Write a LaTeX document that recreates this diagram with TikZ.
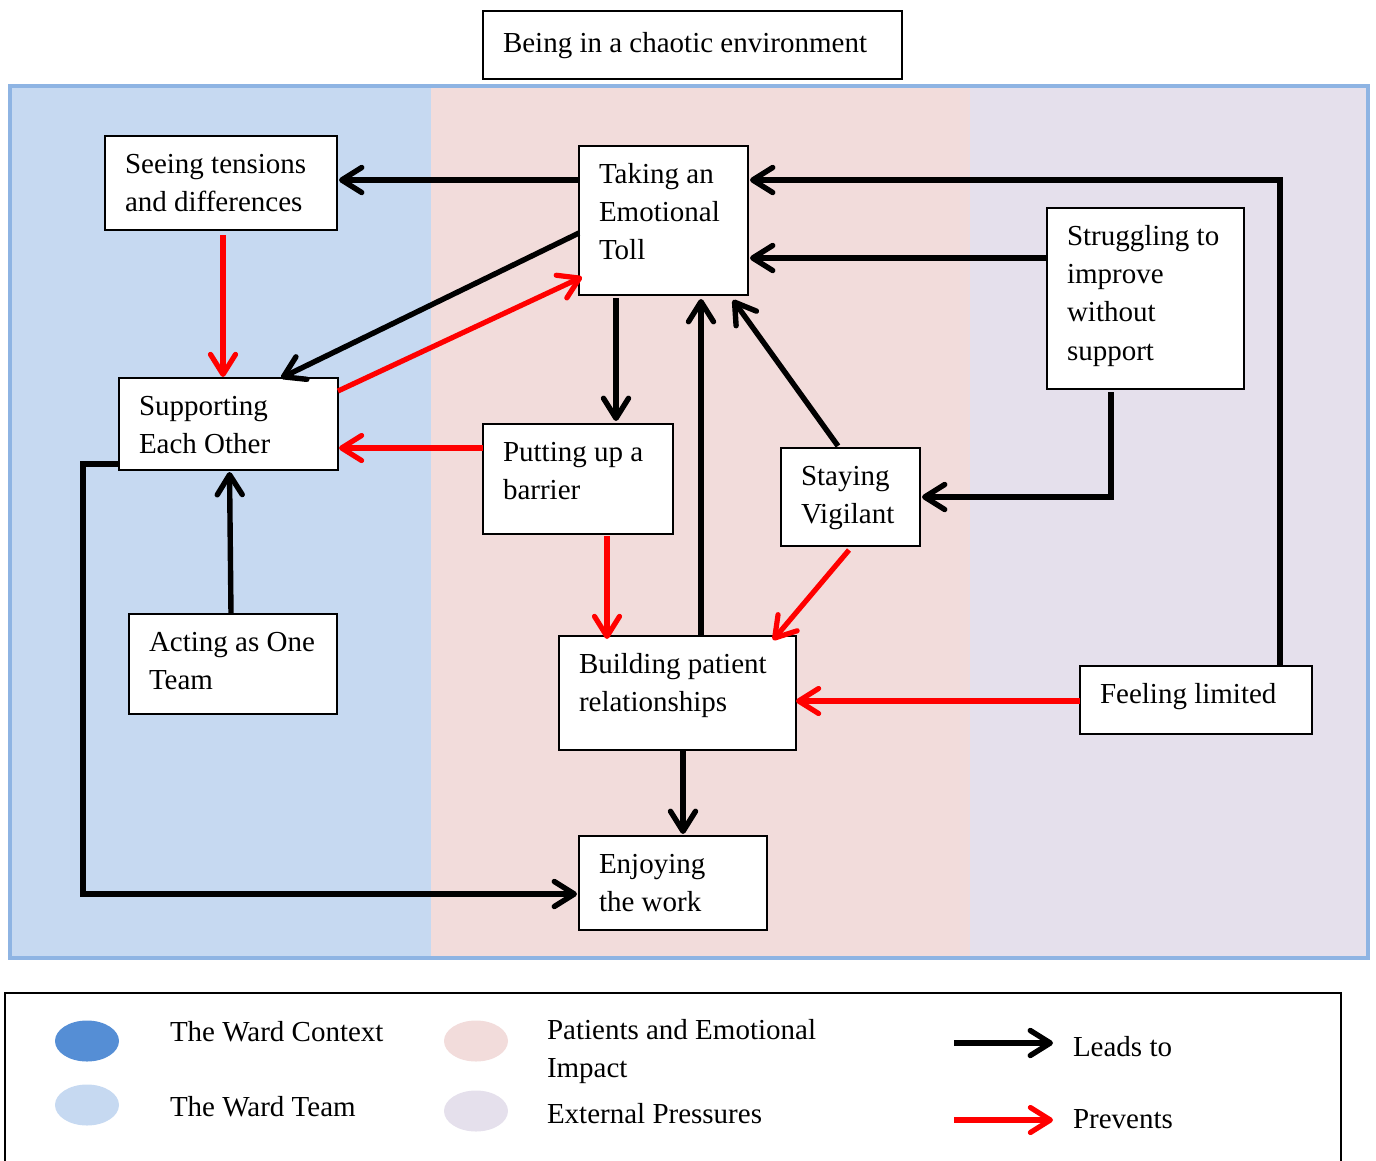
\documentclass[tikz,border=0pt]{standalone}
\usepackage{fontspec}
\setmainfont{Liberation Serif}
\usetikzlibrary{arrows.meta,shapes.geometric}
\definecolor{teamblue}{HTML}{C6D9F1}
\definecolor{pinkbg}{HTML}{F2DCDB}
\definecolor{lavbg}{HTML}{E5E0EC}
\definecolor{ctxblue}{HTML}{558ED5}
\definecolor{frameblue}{HTML}{8EB4E3}
\newcommand\diafont{\fontsize{29}{38.4}\selectfont}
\newcommand\mystrut{\rule{0pt}{25.5pt}}
\tikzset{
  box/.style={draw=black, line width=1.3pt, fill=white, anchor=north west, inner sep=0pt, outer sep=0pt},
  txt/.style={anchor=north west, inner sep=0pt, outer sep=0pt, align=left, font=\diafont},
  ltxt/.style={anchor=base west, inner sep=0pt, outer sep=0pt, font=\diafont},
  barb/.tip={Straight Barb[length=20pt,width=25pt,round]},
  lead/.style={line width=5.4pt, draw=black, -barb},
  prev/.style={line width=5.2pt, draw=red, -barb},
  keyell/.style={ellipse, draw=none, minimum width=64pt, minimum height=41pt, inner sep=0pt}
}
\begin{document}
\begin{tikzpicture}[x=1pt,y=-1pt]
\clip (0,0) rectangle (1376,1160);
% regions
\fill[teamblue] (12,88) rectangle (431,956);
\fill[pinkbg] (431,88) rectangle (970,956);
\fill[lavbg] (970,88) rectangle (1366,956);
\draw[frameblue, line width=4pt] (10,86) rectangle (1368,958);

% top box
\node[box, minimum width=419pt, minimum height=68pt] (C) at (483,11) {};
\node[txt] (Ct) at (503,26.7) {\mystrut Being in a chaotic environment};

% boxes
\node[box, minimum width=232pt, minimum height=94pt] (S) at (105,136) {};
\node[txt] (St) at (125,147.5) {\mystrut Seeing tensions\\and differences};
\node[box, minimum width=169pt, minimum height=149pt] (T) at (579,146) {};
\node[txt] (Tt) at (599,157.5) {\mystrut Taking an\\Emotional\\Toll};
\node[box, minimum width=197pt, minimum height=181pt] (R) at (1047,208) {};
\node[txt] (Rt) at (1067,219.5) {\mystrut Struggling to\\improve\\without\\support};
\node[box, minimum width=219pt, minimum height=92pt] (SU) at (119,378) {};
\node[txt] (SUt) at (139,389.5) {\mystrut Supporting\\Each Other};
\node[box, minimum width=190pt, minimum height=110pt] (P) at (483,424) {};
\node[txt] (Pt) at (503,435.5) {\mystrut Putting up a\\barrier};
\node[box, minimum width=139pt, minimum height=98pt] (V) at (781,448) {};
\node[txt] (Vt) at (801,459.5) {\mystrut Staying\\Vigilant};
\node[box, minimum width=208pt, minimum height=100pt] (A) at (129,614) {};
\node[txt] (At) at (149,625.5) {\mystrut Acting as One\\Team};
\node[box, minimum width=237pt, minimum height=114pt] (B) at (559,636) {};
\node[txt] (Bt) at (579,647.5) {\mystrut Building patient\\relationships};
\node[box, minimum width=232pt, minimum height=68pt] (F) at (1080,666) {};
\node[txt] (Ft) at (1100,677.5) {\mystrut Feeling limited};
\node[box, minimum width=188pt, minimum height=94pt] (E) at (579,836) {};
\node[txt] (Et) at (599,847.5) {\mystrut Enjoying\\the work};

% leads to
\coordinate (t1) at ([yshift=-34pt]T.north west);
\draw[lead, shorten >=2pt] (t1) -- (t1 -| S.east);
\coordinate (t2) at ([yshift=-87pt]T.north west);
\coordinate (su1) at ([xshift=162pt]SU.north west);
\draw[lead] (t2) -- (su1);
\coordinate (t4) at ([xshift=37pt,yshift=-3pt]T.south west);
\draw[lead, shorten >=3pt] (t4) -- (t4 |- P.north);
\coordinate (b1) at ([xshift=142pt]B.north west);
\draw[lead, shorten >=4pt] (b1) -- (b1 |- T.south);
\coordinate (v1) at ([xshift=57pt,yshift=2pt]V.north west);
\coordinate (t5) at ([xshift=-15pt,yshift=-5pt]T.south east);
\draw[lead] (v1) -- (t5);
\coordinate (r1) at ([yshift=-50pt]R.north west);
\draw[lead, shorten >=2pt] (r1) -- (r1 -| T.east);
\coordinate (f1) at ([xshift=200pt]F.north west);
\draw[lead, shorten >=2pt] (f1) -- (f1 |- t1) -- (t1 -| T.east);
\coordinate (r2) at ([xshift=64pt,yshift=-3pt]R.south west);
\draw[lead, shorten >=2pt] (r2) -- (r2 |- V.east) -- (V.east);
\draw[lead, shorten >=2pt] ([xshift=-2pt]A.north) -- ([xshift=1pt]SU.south);
\coordinate (s1) at ([yshift=-86pt]SU.north west);
\coordinate (e1) at ([yshift=-58pt]E.north west);
\draw[lead, shorten >=2pt] (s1) -- ++(-36,0) |- (e1);
\coordinate (b2) at ([xshift=124pt]B.south west);
\draw[lead, shorten >=2pt] (b2) -- (b2 |- E.north);

% prevents
\coordinate (su2) at ([yshift=-13pt]SU.north east);
\coordinate (t3) at ([xshift=3pt,yshift=-131pt]T.north west);
\draw[prev] (su2) -- (t3);
\coordinate (s2) at ([xshift=118pt,yshift=-5pt]S.south west);
\draw[prev, shorten >=1pt] (s2) -- (s2 |- SU.north);
\coordinate (p1) at ([yshift=-24pt]P.north west);
\draw[prev, shorten >=1pt] (p1) -- (p1 -| SU.east);
\coordinate (p2) at ([xshift=124pt,yshift=-2pt]P.south west);
\draw[prev, shorten >=-3pt] (p2) -- (p2 |- B.north);
\coordinate (v2) at ([xshift=68pt,yshift=-4pt]V.south west);
\coordinate (b3) at ([xshift=-23pt,yshift=-4pt]B.north east);
\draw[prev] (v2) -- (b3);
\coordinate (f2) at ([yshift=-35pt]F.north west);
\draw[prev] (f2) -- (f2 -| B.east);

% legend
\draw[line width=1.5pt] (5,993) rectangle (1341,1220);
\node[keyell, fill=ctxblue] (k1) at (87,1041) {};
\node[keyell, fill=teamblue] (k2) at (87,1105) {};
\node[keyell, fill=pinkbg] (k3) at (476,1041) {};
\node[keyell, fill=lavbg] (k4) at (476,1111) {};
\node[ltxt] (l1) at (170,1041) {The Ward Context};
\node[ltxt] (l2) at (170,1116.7) {The Ward Team};
\node[txt] (l3) at (547,1013.8) {\mystrut Patients and Emotional\\Impact};
\node[ltxt] (l4) at (547,1123.3) {External Pressures};
\coordinate (la) at (954,1043);
\coordinate (lb) at (1053,1043);
\draw[lead] (la) -- (lb);
\coordinate (lc) at (954,1120);
\coordinate (ld) at (1053,1120);
\draw[prev] (lc) -- (ld);
\node[ltxt] (l5) at (1073,1056.7) {Leads to};
\node[ltxt] (l6) at (1073,1128.3) {Prevents};
\end{tikzpicture}
\end{document}
